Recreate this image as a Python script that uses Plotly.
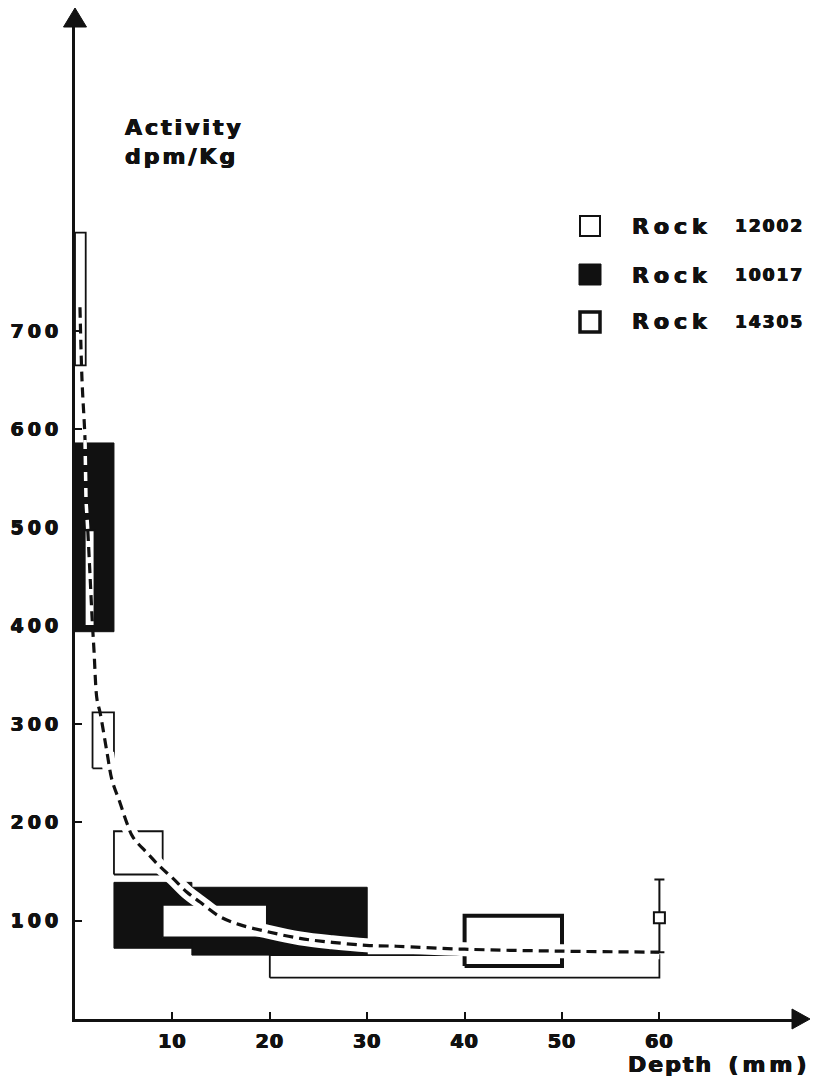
import plotly.graph_objects as go

# ---- data: depth intervals (mm) and activity ranges (dpm/kg) ----
r12002_d0 = [0.0, 1.0, 1.8, 4.0, 9.0, 20.0]
r12002_d1 = [1.1, 2.0, 4.0, 9.0, 19.7, 60.0]
r12002_lo = [665, 400, 255, 147, 83, 42]
r12002_hi = [800, 497, 312, 191, 116, 65]

r10017_d0 = [0.0, 4.0, 12.0]
r10017_d1 = [4.0, 12.0, 30.0]
r10017_lo = [394, 72, 65]
r10017_hi = [586, 139, 134]

r14305_d0 = [40.0]
r14305_d1 = [50.0]
r14305_lo = [54]
r14305_hi = [105]

# single 14305 measurement with its error range
pt_depth = [60.0]
pt_act = [103]
pt_err_plus = [39]
pt_err_minus = [35]

# fitted depth profile
fit_depth = [0.51, 0.72, 1.03, 1.13, 1.33, 1.54, 1.75, 1.95, 2.26, 2.57, 3.29, 3.8,
             4.62, 5.34, 5.95, 7.39, 8.73, 10.06, 11.5, 12.83, 14.9, 16.9, 19.7,
             23.1, 26.4, 29.9, 33.0, 40.0, 50.0, 60.0]
fit_act = [724, 650, 589, 528, 494, 452, 409, 375, 325, 312, 271, 243,
           220, 199, 185, 169, 155, 143, 129, 119, 104, 96, 89,
           82, 78, 75, 74, 71, 69, 68]

x_ticks = [10, 20, 30, 40, 50, 60]
y_ticks = [100, 200, 300, 400, 500, 600, 700]

# ---- page geometry ----
W, H = 821, 1082
ML, MR, MT, MB = 75, 21, 20, 63
PW, PH = W - ML - MR, H - MT - MB
X_MAX = PW / 9.74
Y_MAX = PH / 0.983

FONT = "DejaVu Sans"
INK = "#111111"
# slight outline to give the lettering a heavier, poster-like stroke
HEAVY = "0.6px 0 0 #111111, -0.6px 0 0 #111111, 0 0.4px 0 #111111"


def px(x):
    return (x - ML) / PW


def py(y):
    return (H - MB - y) / PH


def spaced(text, sp):
    return f"<span style='letter-spacing:{sp}px'>{text}</span>"


def font(size):
    return dict(family=FONT, size=size, color=INK, weight="bold", shadow=HEAVY)


def boxes(d0, d1, lo, hi):
    xs, ys = [], []
    for a, b, l, h in zip(d0, d1, lo, hi):
        xs += [a, b, b, a, a, None]
        ys += [l, l, h, h, l, None]
    return xs, ys


fig = go.Figure()

bx, by = boxes(r10017_d0, r10017_d1, r10017_lo, r10017_hi)
fig.add_trace(go.Scatter(x=bx, y=by, mode="lines", fill="toself",
                         fillcolor=INK, line=dict(color=INK, width=1),
                         hoverinfo="skip", showlegend=False))

bx, by = boxes(r12002_d0, r12002_d1, r12002_lo, r12002_hi)
fig.add_trace(go.Scatter(x=bx, y=by, mode="lines", fill="toself",
                         fillcolor="white", line=dict(color=INK, width=1.8),
                         hoverinfo="skip", showlegend=False))

bx, by = boxes(r14305_d0, r14305_d1, r14305_lo, r14305_hi)
fig.add_trace(go.Scatter(x=bx, y=by, mode="lines",
                         line=dict(color=INK, width=4),
                         hoverinfo="skip", showlegend=False))

# white band that the dashed profile cuts through the shaded blocks
halo = [(d, a) for d, a in zip(fit_depth, fit_act) if d >= 3.2]
fig.add_trace(go.Scatter(x=[p[0] for p in halo], y=[p[1] for p in halo],
                         mode="lines", line=dict(color="white", width=14, shape="spline"),
                         hoverinfo="skip", showlegend=False))

fig.add_trace(go.Scatter(x=fit_depth, y=fit_act, mode="lines",
                         line=dict(color=INK, width=3.2, dash="10px,6px",
                                   shape="spline", smoothing=1.0),
                         hoverinfo="skip", showlegend=False))

# inside the top shaded block the dashes show up white
inner = [(d, a) for d, a in zip(fit_depth, fit_act)
         if r12002_hi[1] - 5 <= a <= r10017_hi[0] + 5]
fig.add_trace(go.Scatter(x=[p[0] for p in inner], y=[p[1] for p in inner],
                         mode="lines",
                         line=dict(color="white", width=3.5, dash="9px,7px"),
                         hoverinfo="skip", showlegend=False))

fig.add_trace(go.Scatter(x=pt_depth, y=pt_act, mode="markers",
                         marker=dict(symbol="square", size=11, color="white",
                                     line=dict(color=INK, width=2)),
                         error_y=dict(type="data", array=pt_err_plus,
                                      arrayminus=pt_err_minus, color=INK,
                                      thickness=2, width=5),
                         cliponaxis=False, hoverinfo="skip", showlegend=False))

axis_common = dict(showgrid=False, zeroline=False, showline=True,
                   linecolor=INK, linewidth=3, ticks="inside", ticklen=7,
                   tickwidth=2, tickcolor=INK, layer="above traces",
                   tickfont=font(19))

fig.update_layout(
    width=W, height=H,
    margin=dict(l=ML, r=MR, t=MT, b=MB, pad=0),
    paper_bgcolor="white", plot_bgcolor="white",
    showlegend=False,
    xaxis=dict(range=[0, X_MAX], tickvals=x_ticks,
               ticktext=[spaced(str(v), 1) for v in x_ticks],
               ticklabelstandoff=3, **axis_common),
    yaxis=dict(range=[0, Y_MAX], tickvals=y_ticks,
               ticktext=[spaced(str(v), 4) for v in y_ticks],
               ticklabelstandoff=6, **axis_common),
)

# arrow heads at the ends of both axes
fig.add_shape(type="path", xref="paper", yref="paper",
              xsizemode="pixel", ysizemode="pixel", xanchor=0, yanchor=1,
              path="M-11.5,-7 L11.5,-7 L0,12 Z", fillcolor=INK,
              line=dict(color=INK, width=1), layer="above")
fig.add_shape(type="path", xref="paper", yref="paper",
              xsizemode="pixel", ysizemode="pixel", xanchor=1, yanchor=0,
              path="M-8,10 L-8,-10 L10,0 Z", fillcolor=INK,
              line=dict(color=INK, width=1), layer="above")

# axis captions
fig.add_annotation(xref="paper", yref="paper", x=px(123), y=py(142),
                   xanchor="left", yanchor="middle", align="left",
                   showarrow=False,
                   text=spaced("Activity", 3) + "<br>" + spaced("dpm/Kg", 3),
                   font=font(22))
fig.add_annotation(xref="paper", yref="paper", x=px(812), y=py(1064),
                   xanchor="right", yanchor="middle", showarrow=False,
                   text=spaced("Depth", 2) + "  " + spaced("(mm)", 4),
                   font=font(22))

# key
legend_rows = [("12002", 226, "open-thin"), ("10017", 275, "filled"), ("14305", 322, "open-thick")]
for name, yc, style in legend_rows:
    if style == "filled":
        fig.add_shape(type="rect", xref="paper", yref="paper",
                      x0=px(579), x1=px(601), y0=py(yc + 10), y1=py(yc - 11),
                      fillcolor=INK, line=dict(color=INK, width=1))
    else:
        lw = 2 if style == "open-thin" else 3.5
        fig.add_shape(type="rect", xref="paper", yref="paper",
                      x0=px(580), x1=px(600), y0=py(yc + 10), y1=py(yc - 10),
                      fillcolor="white", line=dict(color=INK, width=lw))
    fig.add_annotation(xref="paper", yref="paper", x=px(630), y=py(yc),
                       xanchor="left", yanchor="middle", showarrow=False,
                       text=spaced("Rock", 5), font=font(22))
    fig.add_annotation(xref="paper", yref="paper", x=px(733), y=py(yc),
                       xanchor="left", yanchor="middle", showarrow=False,
                       text=spaced(name, 2), font=font(17))

fig.write_html("out.html")
